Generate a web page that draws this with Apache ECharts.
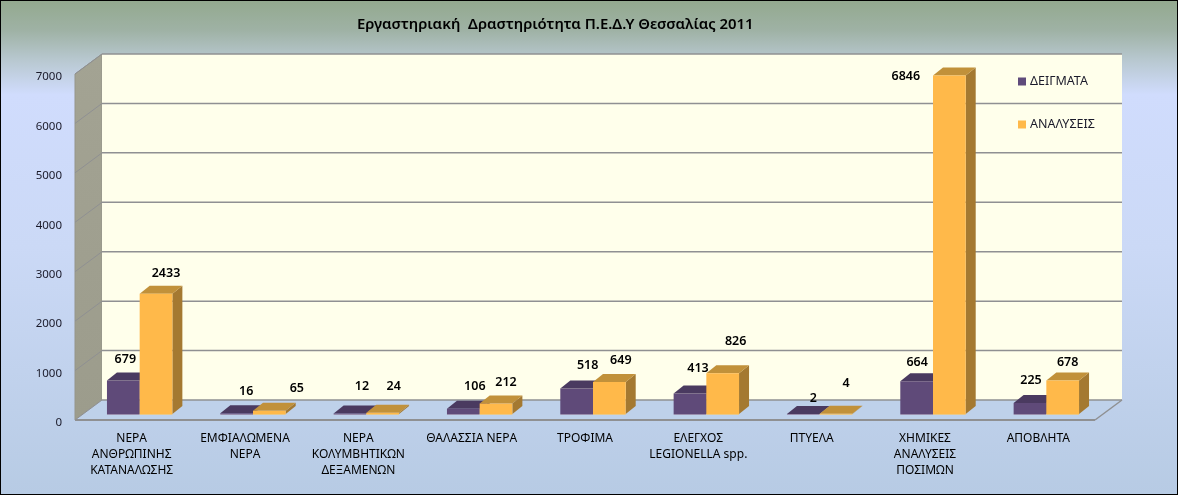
<!DOCTYPE html>
<html>
<head>
<meta charset="utf-8">
<style>
html,body{margin:0;padding:0;background:#000;overflow:hidden}
#c{position:absolute;left:1px;top:1px;width:1176px;height:493px}
</style>
<script src="https://cdn.jsdelivr.net/npm/echarts@6/dist/echarts.min.js"></script>
</head>
<body>
<div id="c"></div>
<script>
const categories = ['ΝΕΡΑ\nΑΝΘΡΩΠΙΝΗΣ\nΚΑΤΑΝΑΛΩΣΗΣ','ΕΜΦΙΑΛΩΜΕΝΑ\nΝΕΡΑ','ΝΕΡΑ\nΚΟΛΥΜΒΗΤΙΚΩΝ\nΔΕΞΑΜΕΝΩΝ','ΘΑΛΑΣΣΙΑ ΝΕΡΑ','ΤΡΟΦΙΜΑ','ΕΛΕΓΧΟΣ\nLEGIONELLA spp.','ΠΤΥΕΛΑ','ΧΗΜΙΚΕΣ\nΑΝΑΛΥΣΕΙΣ\nΠΟΣΙΜΩΝ','ΑΠΟΒΛΗΤΑ'];
const deigmata = [679,16,12,106,518,413,2,664,225];
const analyseis = [2433,65,24,212,649,826,4,6846,678];
const yTicks = [0,1000,2000,3000,4000,5000,6000,7000];
// hand-placed label nudges, px relative to the top centre of each bar's front face
const nudgeDeigmata = [[2,-21],[9.5,-22],[12,-27],[11.5,-22],[11,-23],[8,-25.5],[10,-15],[0.5,-19],[1,-22]];
const nudgeAnalyseis = [[10,-20],[27.5,-22.5],[11,-26],[10,-21.5],[11.5,-21],[13,-32],[10,-30],[-43.5,1],[5,-18.5]];

const WALL = [27, -20];      // depth of the chart box
const BAR_SHIFT = [8, -6];   // bars stand inside the box
const BAR_DEPTH = [10, -8];
const BAR_W = 32.7;
const GRID_LINE = '#8f9092';

function poly(points, fill, stroke){
  return {type:'polygon', shape:{points}, silent:true,
    style:{fill, stroke:stroke||null, lineWidth:stroke?1:0}};
}

function barRenderer(side, colors, nudges){
  return function(params, api){
    const i = api.value(0), v = api.value(1);
    const base = api.coord([i,0]), top = api.coord([i,v]);
    const x0 = base[0]+BAR_SHIFT[0]+(side<0?-BAR_W:0), x1 = x0+BAR_W;
    const yb = base[1]+BAR_SHIFT[1], yt = top[1]+BAR_SHIFT[1];
    const dx = BAR_DEPTH[0], dy = BAR_DEPTH[1];
    const n = nudges[i];
    return {type:'group', children:[
      poly([[x1,yb],[x1+dx,yb+dy],[x1+dx,yt+dy],[x1,yt]], colors.side),
      poly([[x0,yt],[x1,yt],[x1+dx,yt+dy],[x0+dx,yt+dy]], colors.top),
      poly([[x0,yb],[x1,yb],[x1,yt],[x0,yt]], colors.front),
      {type:'line', silent:true, shape:{x1:x0,y1:yb+0.5,x2:x1,y2:yb+0.5}, style:{stroke:colors.edge,lineWidth:1}},
      {type:'text', silent:true, z2:50, style:{
        text:String(v), x:(x0+x1)/2+n[0], y:yt+n[1], align:'center', verticalAlign:'middle',
        font:'600 12.5px "Noto Sans"', fill:'#000'}}
    ]};
  };
}

const chart = echarts.init(document.getElementById('c'), null, {renderer:'canvas'});
chart.setOption({
  animation:false,
  backgroundColor:{type:'linear',x:0,y:0,x2:0,y2:1,colorStops:[
    {offset:0,color:'#93a98f'},{offset:0.06,color:'#9fb2a5'},{offset:0.12,color:'#b8c8d0'},
    {offset:0.19,color:'#d0dcfd'},{offset:0.5,color:'#cbd9f6'},{offset:1,color:'#b7cbe4'}]},
  title:{text:'Εργαστηριακή  Δραστηριότητα Π.Ε.Δ.Υ Θεσσαλίας 2011',left:351,top:11,
    textStyle:{fontFamily:'Noto Sans',fontSize:14.9,fontWeight:600,color:'#000'}},
  legend:{orient:'vertical',left:1012,top:69,itemWidth:8,itemHeight:8,itemGap:30,icon:'rect',
    data:['ΔΕΙΓΜΑΤΑ','ΑΝΑΛΥΣΕΙΣ'],selectedMode:false,
    textStyle:{fontFamily:'Noto Sans',fontSize:12.5,color:'#1a1a2a',padding:[0,0,0,-1]}},
  grid:{left:74,top:73,width:1020,height:346},
  xAxis:{type:'category',data:categories,boundaryGap:true,
    axisLine:{show:false},axisTick:{show:false},splitLine:{show:false},
    axisLabel:{interval:0,margin:11,lineHeight:16,fontFamily:'Noto Sans',fontSize:12,color:'#000'}},
  yAxis:{type:'value',min:0,max:7000,interval:1000,
    axisLine:{show:false},axisTick:{show:false},splitLine:{show:false},
    axisLabel:{margin:13,formatter:v=>'{t|'+v+'}',
      rich:{t:{fontFamily:'Noto Sans',fontSize:11.5,color:'#1a1a2a',padding:[6,0,0,0]}}}},
  series:[
    {type:'custom',name:'walls',coordinateSystem:'cartesian2d',silent:true,clip:false,z:1,
     data:yTicks.map(t=>[0,t]),
     encode:{x:0,y:1},
     renderItem(params,api){
       const t = api.value(1);
       const left = api.coord([0,t]);
       const n = categories.length;
       const span = api.size([1,0])[0];
       const xl = left[0]-span/2, y = left[1];
       const children = [];
       const w0 = api.coord([0,0])[1], w7 = api.coord([0,yTicks[yTicks.length-1]])[1];
       const dx = WALL[0], dy = WALL[1], xr = xl+span*n;
       if(t===0){
         children.push(poly([[xl,w0],[xl+dx,w0+dy],[xl+dx,w7+dy],[xl,w7]],
           {type:'linear',x:0,y:0,x2:0,y2:1,colorStops:[{offset:0,color:'#a3a393'},{offset:1,color:'#9c9c8c'}]},'#95958a'));
         children.push(poly([[xl+dx,w0+dy],[xr+dx,w0+dy],[xr+dx,w7+dy],[xl+dx,w7+dy]],'#ffffeb'));
         children.push(poly([[xl,w0],[xl+dx,w0+dy],[xr+dx,w0+dy],[xr,w0]],'rgba(190,208,234,0.9)'));
         children.push({type:'line',silent:true,shape:{x1:xr,y1:w0,x2:xr+dx,y2:w0+dy},style:{stroke:GRID_LINE,lineWidth:1.5}});
         children.push({type:'line',silent:true,shape:{x1:xl,y1:w0,x2:xr,y2:w0},style:{stroke:GRID_LINE,lineWidth:2}});
       }
       children.push({type:'line',silent:true,shape:{x1:xl+dx,y1:y+dy,x2:xr+dx,y2:y+dy},style:{stroke:GRID_LINE,lineWidth:1.5}});
       children.push({type:'line',silent:true,shape:{x1:xl,y1:y,x2:xl+dx,y2:y+dy},style:{stroke:GRID_LINE,lineWidth:1}});
       return {type:'group',children};
     }},
    {type:'custom',name:'ΔΕΙΓΜΑΤΑ',coordinateSystem:'cartesian2d',clip:false,z:3,
     itemStyle:{color:'#5f4b7b'},
     data:deigmata.map((v,i)=>[i,v]),encode:{x:0,y:1},
     renderItem:barRenderer(-1,{front:'#5f4a79',top:'#4a3a60',side:'#3f3152',edge:'#9a8fae'},nudgeDeigmata)},
    {type:'custom',name:'ΑΝΑΛΥΣΕΙΣ',coordinateSystem:'cartesian2d',clip:false,z:4,
     itemStyle:{color:'#ffb94a'},
     data:analyseis.map((v,i)=>[i,v]),encode:{x:0,y:1},
     renderItem:barRenderer(1,{front:'#ffb94a',top:'#c1913a',side:'#a47931',edge:'#e8c88a'},nudgeAnalyseis)}
  ]
});
</script>
</body>
</html>
